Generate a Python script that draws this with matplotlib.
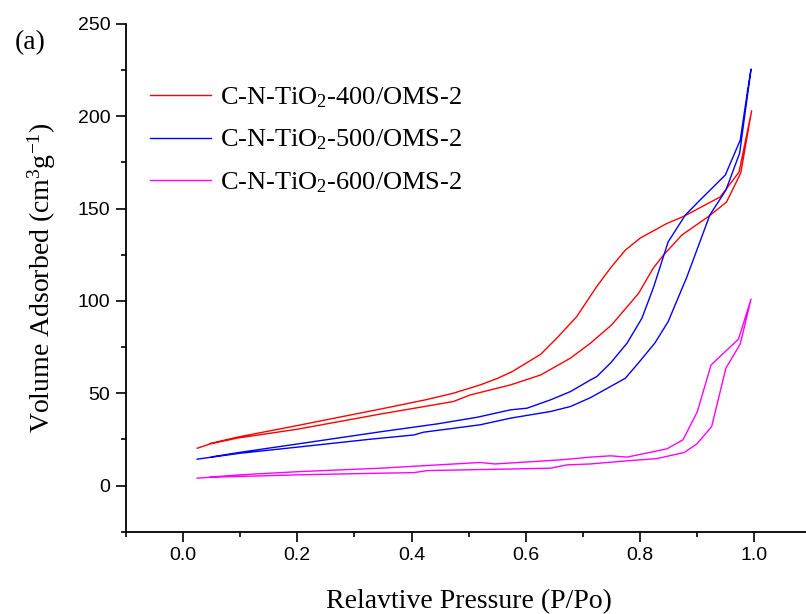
import matplotlib
matplotlib.use("Agg")
import matplotlib.pyplot as plt
from matplotlib.ticker import MultipleLocator

serif = "Liberation Serif"
plt.rcParams["mathtext.fontset"] = "custom"
plt.rcParams["mathtext.rm"] = serif
plt.rcParams["mathtext.it"] = serif + ":italic"
plt.rcParams["mathtext.default"] = "rm"
plt.rcParams["axes.unicode_minus"] = False

# ---- data ----
labels = ["C-N-TiO$_2$-400/OMS-2", "C-N-TiO$_2$-500/OMS-2", "C-N-TiO$_2$-600/OMS-2"]
colors = ["#FF0000", "#0000FF", "#FF00FF"]

ads400_x = [0.025, 0.048, 0.095, 0.2, 0.345, 0.473, 0.503, 0.573, 0.626, 0.678, 0.713, 0.75, 0.797, 0.823, 0.841, 0.873, 0.919, 0.951, 0.976, 0.995]
ads400_y = [20.2, 22.6, 25.7, 30.5, 38.7, 45.5, 49.1, 54.5, 59.9, 69.0, 77.1, 87.0, 104.0, 117.8, 124.9, 135.7, 145.6, 153.5, 169.3, 203.0]
des400_x = [0.995, 0.973, 0.94, 0.875, 0.847, 0.8, 0.774, 0.748, 0.724, 0.689, 0.654, 0.626, 0.576, 0.55, 0.52, 0.473, 0.424, 0.345, 0.2, 0.095, 0.048]
des400_y = [203.0, 169.8, 156.3, 145.6, 142.0, 134.0, 127.5, 117.8, 107.8, 91.5, 79.8, 71.1, 61.7, 58.0, 54.5, 50.0, 46.4, 41.4, 32.5, 26.2, 22.8]

ads500_x = [0.025, 0.1, 0.2, 0.328, 0.404, 0.421, 0.52, 0.573, 0.643, 0.678, 0.713, 0.774, 0.797, 0.826, 0.849, 0.882, 0.922, 0.95, 0.974, 0.994]
ads500_y = [14.3, 17.5, 20.8, 25.1, 27.4, 28.9, 32.9, 36.5, 40.1, 42.8, 47.6, 58.1, 66.4, 77.3, 88.8, 113.2, 146.6, 160.0, 180.0, 225.6]
des500_x = [0.994, 0.988, 0.975, 0.949, 0.905, 0.879, 0.849, 0.823, 0.803, 0.777, 0.748, 0.724, 0.713, 0.678, 0.643, 0.602, 0.573, 0.515, 0.445, 0.345, 0.2, 0.1, 0.05]
des500_y = [225.6, 214.0, 187.0, 168.2, 154.7, 146.5, 132.0, 107.0, 90.6, 77.1, 66.3, 59.0, 57.2, 50.9, 46.4, 41.9, 41.0, 37.0, 33.4, 29.1, 22.5, 18.0, 15.5]

ads600_x = [0.025, 0.048, 0.2, 0.345, 0.404, 0.427, 0.643, 0.672, 0.713, 0.777, 0.829, 0.877, 0.899, 0.925, 0.95, 0.975, 0.994]
ads600_y = [4.0, 4.5, 5.8, 6.7, 7.0, 8.1, 9.4, 11.2, 11.7, 13.4, 14.6, 17.9, 22.5, 31.9, 63.6, 76.6, 101.0]
des600_x = [0.994, 0.972, 0.924, 0.9, 0.875, 0.847, 0.777, 0.748, 0.713, 0.66, 0.546, 0.52, 0.345, 0.2, 0.1, 0.048]
des600_y = [101.0, 79.3, 65.3, 40.0, 24.8, 19.9, 15.4, 16.1, 15.4, 13.9, 11.7, 12.5, 9.4, 7.5, 5.8, 4.6]

x_ticks = [0.0, 0.2, 0.4, 0.6, 0.8, 1.0]
y_ticks = [0, 50, 100, 150, 200, 250]

series = [
    (ads400_x + des400_x, ads400_y + des400_y),
    (ads500_x + des500_x, ads500_y + des500_y),
    (ads600_x + des600_x, ads600_y + des600_y),
]

# ---- figure ----
fig = plt.figure(figsize=(8.06, 6.14), dpi=100)
ax = fig.add_axes([0.156, 0.134, 0.851, 0.827])

for (xs, ys), c, lab in zip(series, colors, labels):
    ax.plot(xs, ys, color=c, lw=1.0, label=lab)

ax.set_xlim(-0.1, 1.1)
ax.set_ylim(-25, 250)
ax.set_xticks(x_ticks)
ax.set_yticks(y_ticks)
ax.xaxis.set_minor_locator(MultipleLocator(0.1))
ax.yaxis.set_minor_locator(MultipleLocator(25))
ax.set_xticklabels([f"{v:.1f}" for v in x_ticks])
ax.set_yticklabels([str(v) for v in y_ticks])

for s in ["top", "right"]:
    ax.spines[s].set_visible(False)
for s in ["left", "bottom"]:
    ax.spines[s].set_linewidth(1.3)

ax.tick_params(which="major", direction="out", length=7, width=1.2, pad=4,
               labelsize=14)
ax.tick_params(which="minor", direction="out", length=3.5, width=1.2)
for lbl in ax.get_xticklabels() + ax.get_yticklabels():
    lbl.set_fontfamily("Liberation Sans")

ax.set_xlabel("Relavtive Pressure (P/Po)", fontfamily=serif, fontsize=20, labelpad=18)
ax.set_ylabel("Volume Adsorbed (cm$^3$g$^{-1}$)", fontfamily=serif, fontsize=20, labelpad=14)

leg = ax.legend(loc="upper left", bbox_to_anchor=(0.02, 0.9), frameon=False,
                prop={"family": serif, "size": 19}, handlelength=2.3,
                handletextpad=0.35, labelspacing=0.68, borderaxespad=0)

fig.text(0.0186, 0.93, "(a)", fontfamily=serif, fontsize=20, ha="left", va="center")

fig.savefig("out.png", dpi=100)
